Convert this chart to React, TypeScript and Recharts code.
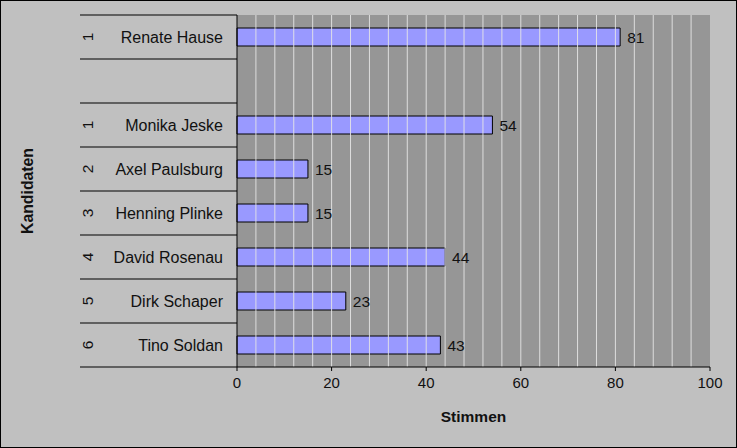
import {Bar, BarChart, CartesianGrid, Label, LabelList, ReferenceLine, XAxis, YAxis} from "recharts";

document.body.style.margin = "0";

const candidates = ['Renate Hause', '', 'Monika Jeske', 'Axel Paulsburg', 'Henning Plinke', 'David Rosenau', 'Dirk Schaper', 'Tino Soldan'];
const ranks = ['1', '', '1', '2', '3', '4', '5', '6'];
const votes = [81, null, 54, 15, 15, 44, 23, 43];
const xTicks = [0, 20, 40, 60, 80, 100];
const gridValues = [4, 8, 12, 16, 20, 24, 28, 32, 36, 40, 44, 48, 52, 56, 60, 64, 68, 72, 76, 80, 84, 88, 92, 96];

const W = 737;
const H = 448;
const TOP = 15;
const BOTTOM = 81;
const AXIS_W = 237;
const ROW_H = (H - TOP - BOTTOM) / candidates.length;
const FONT = "Arial, 'Liberation Sans', sans-serif";

const data = candidates.map((name, i) => ({name: name || ' ', rank: ranks[i], votes: votes[i]}));

const CategoryTick = (props: any) => {
    const {y, index} = props;
    const row = data[index];
    const top = y - ROW_H / 2;
    return (
        <g>
            <line x1={80} x2={AXIS_W} y1={top} y2={top} stroke="#000"/>
            {index === data.length - 1 &&
                <line x1={80} x2={AXIS_W} y1={top + ROW_H} y2={top + ROW_H} stroke="#000"/>}
            <text x={223} y={y} dy="0.35em" textAnchor="end" fontSize={16} fontFamily={FONT} fill="#111">
                {row ? row.name : ''}
            </text>
            {row && row.rank &&
                <text x={88} y={y} dy="0.35em" textAnchor="middle" fontSize={15.5} fontFamily={FONT} fill="#111"
                      transform={`rotate(-90 88 ${y})`}>
                    {row.rank}
                </text>}
        </g>
    );
};

const YTitle = (props: any) => {
    const {viewBox} = props;
    const cy = viewBox.y + viewBox.height / 2;
    return (
        <text x={33} y={cy} textAnchor="middle" fontSize={15.8} fontWeight="bold" fontFamily={FONT} fill="#111"
              transform={`rotate(-90 33 ${cy})`}>
            Kandidaten
        </text>
    );
};

const App = () => {
    return (
        <div style={{position: "relative", width: W, height: H, background: "#c0c0c0"}}>
            <BarChart
                width={W}
                height={H}
                data={data}
                layout="vertical"
                barCategoryGap={0}
                margin={{top: TOP, right: 27, left: 0, bottom: 0}}
            >
                <CartesianGrid horizontal={false} vertical={false} fill="#969696"/>
                {gridValues.map(v => (
                    <ReferenceLine key={v} x={v} stroke="#e6e6e6" strokeOpacity={0.9}/>
                ))}
                <XAxis
                    type="number"
                    domain={[0, 100]}
                    ticks={xTicks}
                    height={BOTTOM}
                    stroke="#000"
                    tickSize={4}
                    tickMargin={6}
                    tick={{fill: "#111", fontSize: 15, fontFamily: FONT}}
                    label={{value: "Stimmen", position: "insideBottom", offset: 26, fill: "#111", fontSize: 15.5, fontWeight: "bold", fontFamily: FONT}}
                />
                <YAxis
                    type="category"
                    dataKey="name"
                    width={AXIS_W}
                    stroke="#000"
                    tickLine={false}
                    interval={0}
                    tick={<CategoryTick/>}
                >
                    <Label value="Kandidaten" content={<YTitle/>}/>
                </YAxis>
                <Bar dataKey="votes" fill="#9999ff" stroke="#000" strokeWidth={1} barSize={18} isAnimationActive={false}>
                    <LabelList dataKey="votes" position="right" offset={7} fill="#111" fontSize={15.5} fontFamily={FONT}/>
                </Bar>
            </BarChart>
            <div style={{position: "absolute", inset: 0, border: "1px solid #000", pointerEvents: "none"}}/>
        </div>
    );
};

export default App;
